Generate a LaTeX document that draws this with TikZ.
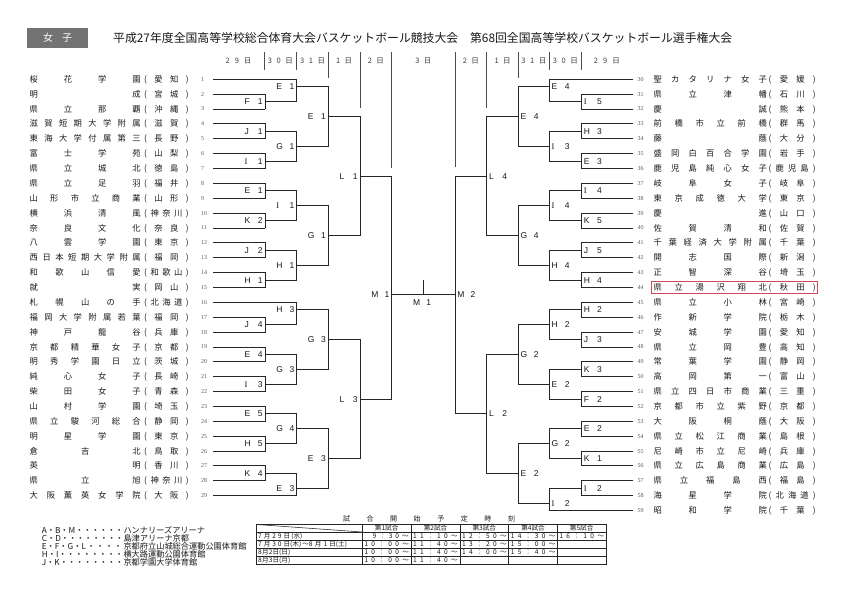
\documentclass[tikz,border=0pt]{standalone}
\usepackage{fontspec}
\usepackage{graphicx}
\newfontfamily\jp{Noto Sans CJK JP}
\newfontfamily\lab{Liberation Sans}
\newfontfamily\labserif{Liberation Serif}
\makeatletter
\newcommand\spreadchars[1]{\@tfor\spr@c:=#1\do{{\spr@c}\hfill}\unskip}
\makeatother
\newcommand\spreadx[1]{\expandafter\spreadchars\expandafter{#1}}
\newcommand\prefx[1]{\expandafter\spreadchars\expandafter{\expandafter(#1)}}
\definecolor{ink}{gray}{0.1}
\definecolor{boxgray}{gray}{0.45}
\definecolor{hl}{RGB}{214,70,90}
\newcommand\bmL[6]{%
  \draw[br] (#1,{ry(#2)}) -- (#1,{ry(#3)});
  \draw[br] (#1,{ry(#4)}) -- (#5,{ry(#4)});
  \node[mlab,anchor=east] at ({#1-2.2},{ry(#4)}) {\makebox[18pt]{\spreadchars{#6}}};}
\newcommand\bmR[6]{%
  \draw[br] (#1,{ry(#2)}) -- (#1,{ry(#3)});
  \draw[br] (#1,{ry(#4)}) -- (#5,{ry(#4)});
  \node[mlab,anchor=west] at ({#1+2.2},{ry(#4)}) {\makebox[18pt]{\spreadchars{#6}}};}
\begin{document}
\begin{tikzpicture}[x=1pt,y=-1pt,
  declare function={ry(\i)=79.3+(\i-1)*14.87;},
  br/.style={line width=0.9pt,line cap=rect,draw=black!85},
  sepline/.style={line width=1pt,draw=black!70},
  tname/.style={inner sep=0pt,font=\jp\fontsize{8.3}{8.3}\selectfont,text height=6.1pt,text depth=0pt,text=ink},
  num/.style={inner sep=0pt,font=\labserif\fontsize{6}{6}\selectfont,text height=3.9pt,text depth=0pt,text=black!65},
  mlab/.style={inner sep=0pt,font=\lab\fontsize{8.5}{8.5}\selectfont,text height=6.1pt,text depth=0pt,text=ink},
  dayh/.style={inner sep=0pt,font=\jp\fontsize{7.5}{7.5}\selectfont,text height=5.5pt,text depth=0pt,text=black!75},
  leg/.style={inner sep=0pt,font=\jp\fontsize{8.2}{8.2}\selectfont,text height=6pt,text depth=0pt,text=ink},
  tbl/.style={inner sep=0pt,font=\jp\fontsize{6.6}{6.6}\selectfont,text height=4.9pt,text depth=0pt,text=ink},
  tbo/.style={line width=1pt,draw=black!85},
  tbi/.style={line width=0.55pt,draw=black!85}]
\useasboundingbox (0,0) rectangle (842,595);
\fill[white] (0,0) rectangle (842,595);

% header
\node[fill=boxgray,minimum width=61pt,minimum height=20.5pt,inner sep=0pt,text=white,font=\jp\fontsize{10}{10}\selectfont] (sex) at (57.5,38.2) {女\hspace{9pt}子};
\node[anchor=west,inner sep=0pt,font=\jp\fontsize{12}{12}\selectfont,text=ink] (title) at (113,38.5) {\resizebox{619pt}{!}{平成27年度全国高等学校総合体育大会バスケットボール競技大会\hspace{1em}第68回全国高等学校バスケットボール選手権大会}};

% day headers
\foreach \cx/\dt/\w [count=\k] in {238.5/29日/26,280.3/30日/25,312.5/31日/25,344.2/1日/16,375.9/2日/16,423.3/3日/16,470.9/2日/16,502.5/1日/16,533.8/31日/25,565.4/30日/25,606.8/29日/26}
  \node[dayh] (day\k) at (\cx,60.5) {\makebox[\w pt]{\spreadx{\dt}}};
\foreach \xx/\yb in {264/70,296.7/70,328.3/78,360/108,391.7/168,455/167,486.7/108,518.3/78,549.3/70,581/70}
  \draw[sepline] (\xx,52) -- (\xx,\yb);

% left teams
\foreach \nn/\tn/\tp in {1/桜花学園/愛知,2/明成/宮城,3/県立那覇/沖縄,4/滋賀短期大学附属/滋賀,5/東海大学付属第三/長野,6/富士学苑/山梨,7/県立城北/徳島,8/県立足羽/福井,9/山形市立商業/山形,10/横浜清風/神奈川,11/奈良文化/奈良,12/八雲学園/東京,13/西日本短期大学附属/福岡,14/和歌山信愛/和歌山,15/就実/岡山,16/札幌山の手/北海道,17/福岡大学附属若葉/福岡,18/神戸龍谷/兵庫,19/京都精華女子/京都,20/明秀学園日立/茨城,21/純心女子/長崎,22/柴田女子/青森,23/山村学園/埼玉,24/県立駿河総合/静岡,25/明星学園/東京,26/倉吉北/鳥取,27/英明/香川,28/県立旭/神奈川,29/大阪薫英女学院/大阪}{
  \node[tname,anchor=west] (ln\nn) at (29.5,{ry(\nn)}) {\makebox[111pt]{\spreadx{\tn}}};
  \node[tname,anchor=west] (lp\nn) at (144,{ry(\nn)}) {\makebox[44.5pt]{\prefx{\tp}}};
  \node[num,anchor=west] (lnum\nn) at (201,{ry(\nn)}) {\nn};
}
% right teams
\foreach \nn/\tn/\tp in {30/聖カタリナ女子/愛媛,31/県立津幡/石川,32/慶誠/熊本,33/前橋市立前橋/群馬,34/藤蔭/大分,35/盛岡白百合学園/岩手,36/鹿児島純心女子/鹿児島,37/岐阜女子/岐阜,38/東京成徳大学/東京,39/慶進/山口,40/佐賀清和/佐賀,41/千葉経済大学附属/千葉,42/開志国際/新潟,43/正智深谷/埼玉,44/県立湯沢翔北/秋田,45/県立小林/宮崎,46/作新学院/栃木,47/安城学園/愛知,48/県立岡豊/高知,49/常葉学園/静岡,50/高岡第一/富山,51/県立四日市商業/三重,52/京都市立紫野/京都,53/大阪桐蔭/大阪,54/県立松江商業/島根,55/尼崎市立尼崎/兵庫,56/県立広島商業/広島,57/県立福島西/福島,58/海星学院/北海道,59/昭和学院/千葉}{
  \node[tname,anchor=west] (rn\nn) at (653.3,{ry(\nn-29)}) {\makebox[113.5pt]{\spreadx{\tn}}};
  \node[tname,anchor=west] (rp\nn) at (768.5,{ry(\nn-29)}) {\makebox[47pt]{\prefx{\tp}}};
  \node[num,anchor=west] (rnum\nn) at (637.5,{ry(\nn-29)}) {\nn};
}
\draw[hl,line width=0.8pt] (651.7,281) rectangle (817.3,293.8);

% team lines left
\foreach \i in {2,...,15} \draw[br] (213,{ry(\i)}) -- (265,{ry(\i)});
\foreach \i in {17,...,28} \draw[br] (213,{ry(\i)}) -- (265,{ry(\i)});
\foreach \i in {1,16,29} \draw[br] (213,{ry(\i)}) -- (296.7,{ry(\i)});
% team lines right
\foreach \i in {2,...,29} \draw[br] (632.7,{ry(\i)}) -- (581.5,{ry(\i)});
\foreach \i in {1,30} \draw[br] (632.7,{ry(\i)}) -- (549.3,{ry(\i)});

% left bracket round 1
\bmL{265}{2}{3}{2.5}{296.7}{F1}
\bmL{265}{4}{5}{4.5}{296.7}{J1}
\bmL{265}{6}{7}{6.5}{296.7}{{\labserif I}1}
\bmL{265}{8}{9}{8.5}{296.7}{E1}
\bmL{265}{10}{11}{10.5}{296.7}{K2}
\bmL{265}{12}{13}{12.5}{296.7}{J2}
\bmL{265}{14}{15}{14.5}{296.7}{H1}
\bmL{265}{17}{18}{17.5}{296.7}{J4}
\bmL{265}{19}{20}{19.5}{296.7}{E4}
\bmL{265}{21}{22}{21.5}{296.7}{{\labserif I}3}
\bmL{265}{23}{24}{23.5}{296.7}{E5}
\bmL{265}{25}{26}{25.5}{296.7}{H5}
\bmL{265}{27}{28}{27.5}{296.7}{K4}
% round 2
\bmL{296.7}{1}{2.5}{1.5}{328.3}{E1}
\bmL{296.7}{4.5}{6.5}{5.5}{328.3}{G1}
\bmL{296.7}{8.5}{10.5}{9.5}{328.3}{{\labserif I}1}
\bmL{296.7}{12.5}{14.5}{13.5}{328.3}{H1}
\bmL{296.7}{16}{17.5}{16.5}{328.3}{H3}
\bmL{296.7}{19.5}{21.5}{20.5}{328.3}{G3}
\bmL{296.7}{23.5}{25.5}{24.5}{328.3}{G4}
\bmL{296.7}{27.5}{29}{28.5}{328.3}{E3}
% round 3
\bmL{328.3}{1.5}{5.5}{3.5}{360}{E1}
\bmL{328.3}{9.5}{13.5}{11.5}{360}{G1}
\bmL{328.3}{16.5}{20.5}{18.5}{360}{G3}
\bmL{328.3}{24.5}{28.5}{26.5}{360}{E3}
% round 4
\bmL{360}{3.5}{11.5}{7.5}{391.7}{L1}
\bmL{360}{18.5}{26.5}{22.5}{391.7}{L3}
% round 5
\bmL{391.7}{7.5}{22.5}{15.5}{455}{M1}

% right bracket round 1
\bmR{581.5}{2}{3}{2.5}{549.3}{{\labserif I}5}
\bmR{581.5}{4}{5}{4.5}{549.3}{H3}
\bmR{581.5}{6}{7}{6.5}{549.3}{E3}
\bmR{581.5}{8}{9}{8.5}{549.3}{{\labserif I}4}
\bmR{581.5}{10}{11}{10.5}{549.3}{K5}
\bmR{581.5}{12}{13}{12.5}{549.3}{J5}
\bmR{581.5}{14}{15}{14.5}{549.3}{H4}
\bmR{581.5}{16}{17}{16.5}{549.3}{H2}
\bmR{581.5}{18}{19}{18.5}{549.3}{J3}
\bmR{581.5}{20}{21}{20.5}{549.3}{K3}
\bmR{581.5}{22}{23}{22.5}{549.3}{F2}
\bmR{581.5}{24}{25}{24.5}{549.3}{E2}
\bmR{581.5}{26}{27}{26.5}{549.3}{K1}
\bmR{581.5}{28}{29}{28.5}{549.3}{{\labserif I}2}
% round 2
\bmR{549.3}{1}{2.5}{1.5}{518.3}{E4}
\bmR{549.3}{4.5}{6.5}{5.5}{518.3}{{\labserif I}3}
\bmR{549.3}{8.5}{10.5}{9.5}{518.3}{{\labserif I}4}
\bmR{549.3}{12.5}{14.5}{13.5}{518.3}{H4}
\bmR{549.3}{16.5}{18.5}{17.5}{518.3}{H2}
\bmR{549.3}{20.5}{22.5}{21.5}{518.3}{E2}
\bmR{549.3}{24.5}{26.5}{25.5}{518.3}{G2}
\bmR{549.3}{28.5}{30}{29.5}{518.3}{{\labserif I}2}
% round 3
\bmR{518.3}{1.5}{5.5}{3.5}{486.7}{E4}
\bmR{518.3}{9.5}{13.5}{11.5}{486.7}{G4}
\bmR{518.3}{17.5}{21.5}{19.5}{486.7}{G2}
\bmR{518.3}{25.5}{29.5}{27.5}{486.7}{E2}
% round 4
\bmR{486.7}{3.5}{11.5}{7.5}{455}{L4}
\bmR{486.7}{19.5}{27.5}{23.5}{455}{L2}
% final
\draw[br] (455,{ry(7.5)}) -- (455,{ry(23.5)});
\node[mlab,anchor=west] (m2lab) at (457.2,{ry(15.5)}) {\makebox[18pt]{\spreadchars{M2}}};
\coordinate (ctop) at (423.3,280);
\coordinate (cbot) at (423.3,{ry(15.5)});
\draw[br] (ctop) -- (cbot);
\node[mlab] (m1c) at (422,302.5) {\makebox[18pt]{\spreadchars{M1}}};

% legend
\foreach \yy/\pre/\ven [count=\k] in {530/A・B・M/ハンナリーズアリーナ,538/C・D/島津アリーナ京都,546.2/E・F・G・L/京都府立山城総合運動公園体育館,554.2/H・I/横大路運動公園体育館,562.2/J・K/京都学園大学体育館}{
  \node[leg,anchor=west] (legp\k) at (41.7,\yy) {\makebox[81.6pt][l]{\pre\xleaders\hbox to 7.6pt{\hss・\hss}\hfill}};
  \node[leg,anchor=west] (legv\k) at (123.3,\yy) {\ven};
}

% schedule table
\node[tbl,font=\jp\fontsize{7}{7}\selectfont] (tabtitle) at (429,519.3) {\makebox[172pt]{\spreadchars{試合開始予定時刻}}};
\draw[tbo] (256.7,524) rectangle (606,564);
\foreach \xx in {362.3,411,460,508.7,557.3} \draw[tbi] (\xx,524) -- (\xx,564);
\foreach \yy in {532,540,548,556} \draw[tbi] (256.7,\yy) -- (606,\yy);
\draw[tbi] (256.7,524.5) -- (362.3,532);
\foreach \cx/\k in {386.65/1,435.5/2,484.35/3,533/4,581.65/5}
  \node[tbl] (th\k) at (\cx,528.2) {第\k 試合};
\node[tbl,anchor=west] (d1) at (258,536.2) {\makebox[32pt]{\spreadchars{7月29日}}\,(水)};
\node[tbl,anchor=west] (d2) at (258,544.2) {\makebox[32pt]{\spreadchars{7月30日}}(木)\,～\makebox[27pt]{\spreadchars{8月1日}}(土)};
\node[tbl,anchor=west] (d3) at (258,552.2) {\makebox[21pt]{\spreadchars{8月2日}}(日)};
\node[tbl,anchor=west] (d4) at (258,560.2) {\makebox[21pt]{\spreadchars{8月3日}}(月)};
\node[tbl,anchor=east] (t11) at (408.8,536.2) {\makebox[36pt]{\spreadchars{9：30～}}};
\foreach \xl/\yy/\tt [count=\k] in {411/536.2/11：10～,460/536.2/12：50～,508.7/536.2/14：30～,557.3/536.2/16：10～,
  362.3/544.2/10：00～,411/544.2/11：40～,460/544.2/13：20～,508.7/544.2/15：00～,
  362.3/552.2/10：00～,411/552.2/11：40～,460/552.2/14：00～,508.7/552.2/15：40～,
  362.3/560.2/10：00～,411/560.2/11：40～}
  \node[tbl,anchor=west] (tc\k) at (\xl+2,\yy) {\makebox[44.5pt]{\spreadx{\tt}}};
\end{tikzpicture}
\end{document}
